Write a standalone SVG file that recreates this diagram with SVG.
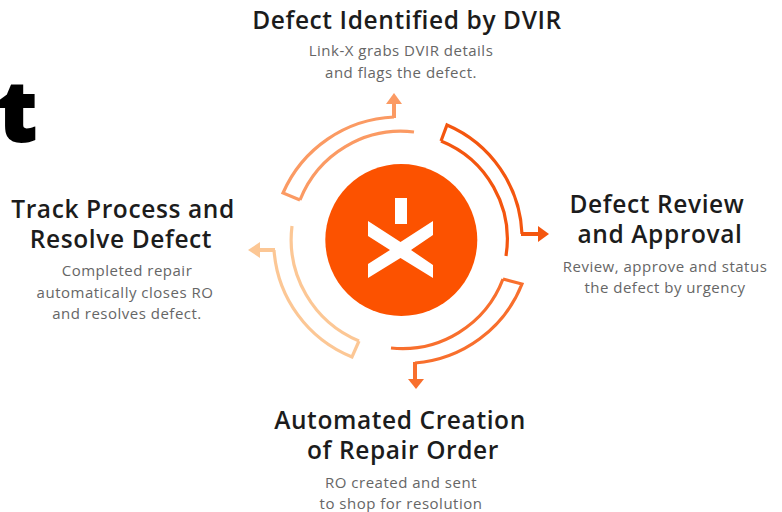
<svg xmlns="http://www.w3.org/2000/svg" width="782" height="512" viewBox="0 0 782 512">
<style>
text{font-family:"Open Sans","Noto Sans","DejaVu Sans",sans-serif;text-anchor:middle}
.h{font-size:24.5px;font-weight:600;fill:#1c1c1c;letter-spacing:.6px}
.d{font-size:15px;fill:#666;letter-spacing:.5px}
.ring{fill:none;stroke-width:3.200;stroke-linejoin:miter}
.stem{fill:none;stroke-width:4}
.big{font-size:84px;font-weight:800;fill:#000;stroke:#000;stroke-width:2px;text-anchor:end}
</style>
<rect width="782" height="512" fill="#fff"/>
<text class="big" x="37" y="141">st</text>
<g id="connectors">
<path class="ring" stroke="#fb9a63" d="M300 200L283 193A127 127 0 0 1 394 117M414 132A108.700 108.700 0 0 0 300 200"/>
<path class="stem" stroke="#fb9a63" d="M394 118V100"/>
<path fill="#fb9a63" d="M386 104L394 93L402 104Z"/>
<path class="ring" stroke="#f4560f" d="M441 141L447 125A124 124 0 0 1 522 234M506 256A106 106 0 0 0 441 141"/>
<path class="stem" stroke="#f4560f" d="M521 234H540"/>
<path fill="#f4560f" d="M538 226L549 234L538 242Z"/>
<path class="ring" stroke="#f86f2d" d="M503 279L522 284A126 126 0 0 1 415 363M391 348A108 108 0 0 0 503 279"/>
<path class="stem" stroke="#f86f2d" d="M415 362V380"/>
<path fill="#f86f2d" d="M408 379L416 389L424 379Z"/>
<path class="ring" stroke="#fcc795" d="M359 341L352 357A125 125 0 0 1 274 250M292 226A110 110 0 0 0 359 341"/>
<path class="stem" stroke="#fcc795" d="M275 250H258"/>
<path fill="#fcc795" d="M260 242L248 250L260 258Z"/>
</g>
<g id="hub">
<circle cx="401.300" cy="240" r="76" fill="#fc5200"/>
<path fill="#fff" d="M395 198H407V224H395ZM368 221L400.500 242L433 221V235L411 250L433 265V278L400.500 258L368 278V264L390 250L368 236Z"/>
</g>
<g id="node-top">
<text class="h" x="407" y="29">Defect Identified by DVIR</text>
<text class="d" y="56"><tspan x="401">Link-X grabs DVIR details</tspan><tspan x="401" dy="22">and flags the defect.</tspan></text>
</g>
<g id="node-right">
<text class="h" y="212.500"><tspan x="657">Defect Review</tspan><tspan x="660" dy="30">and Approval</tspan></text>
<text class="d" y="272"><tspan x="665">Review, approve and status</tspan><tspan x="665" dy="21">the defect by urgency</tspan></text>
</g>
<g id="node-bottom">
<text class="h" y="429"><tspan x="400">Automated Creation</tspan><tspan x="403" dy="30">of Repair Order</tspan></text>
<text class="d" y="488"><tspan x="401">RO created and sent</tspan><tspan x="401" dy="21">to shop for resolution</tspan></text>
</g>
<g id="node-left">
<text class="h" y="217.500"><tspan x="123">Track Process and</tspan><tspan x="121" dy="30">Resolve Defect</tspan></text>
<text class="d" y="276"><tspan x="127">Completed repair</tspan><tspan x="125" dy="22">automatically closes RO</tspan><tspan x="127" dy="21">and resolves defect.</tspan></text>
</g>
</svg>
